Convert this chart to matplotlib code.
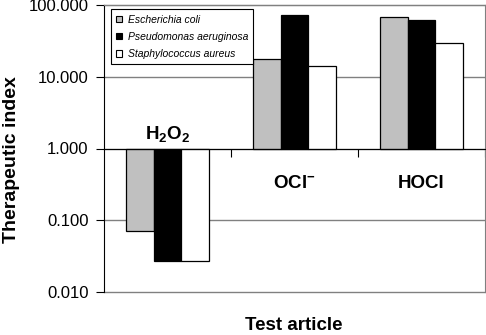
import matplotlib
matplotlib.use('Agg')
import matplotlib.pyplot as plt
from matplotlib.patches import Patch
import numpy as np

plt.rcParams['font.family'] = ['Liberation Sans', 'DejaVu Sans']
plt.rcParams['mathtext.fontset'] = 'custom'
plt.rcParams['mathtext.rm'] = 'Liberation Sans:bold'
plt.rcParams['mathtext.bf'] = 'Liberation Sans:bold'

# Data (bars start at 1.0)
categories = [r'$\mathbf{H_2O_2}$', r'$\mathbf{OCl^{-}}$', 'HOCl']
species = ['Escherichia coli', 'Pseudomonas aeruginosa', 'Staphylococcus aureus']
e_coli = [0.070, 17.6, 68.0]
p_aeruginosa = [0.027, 72.0, 62.0]
s_aureus = [0.027, 14.0, 30.0]
yticks = [0.01, 0.1, 1, 10, 100]

series = [e_coli, p_aeruginosa, s_aureus]
colors = ['#c0c0c0', 'black', 'white']

fig = plt.figure(figsize=(4.86, 3.35), dpi=100)
ax = fig.add_axes([104/486, 43/335, 381/486, 287/335])

x = np.arange(len(categories))
w = 0.22
for i, (vals, c) in enumerate(zip(series, colors)):
    vals = np.array(vals)
    ax.bar(x + (i - 1) * w, vals - 1, bottom=1, width=w, color=c,
           edgecolor='black', linewidth=0.9, zorder=3)

ax.set_yscale('log')
ax.set_ylim(0.01, 100)
ax.set_xlim(-0.5, 2.5)
ax.set_yticks(yticks)
ax.set_yticklabels(['%.3f' % t for t in yticks], fontsize=12)
ax.yaxis.set_minor_locator(matplotlib.ticker.NullLocator())

# gridlines
for t in yticks:
    ax.axhline(t, color='#808080', lw=1, zorder=1, clip_on=False)

# category axis sits at 1.0
ax.spines['bottom'].set_position(('data', 1))
ax.spines['bottom'].set_color('black')
ax.spines['bottom'].set_zorder(4)
ax.set_xticks([0.5, 1.5, 2.5])
ax.set_xticklabels([])
ax.tick_params(axis='x', direction='out', length=6, width=0.8)
ax.tick_params(axis='y', direction='out', length=6, width=0.8, pad=5)
ax.spines['top'].set_color('#808080')
ax.spines['right'].set_color('#808080')
ax.spines['left'].set_color('black')

# category labels
label_y = [1.6, 0.33, 0.33]
for xi, lab, ly in zip(x, categories, label_y):
    ax.text(xi, ly, lab, ha='center', va='center', fontsize=13.5,
            fontweight='bold', zorder=5)

fig.text(12/486, 1 - 160/335, 'Therapeutic index', rotation=90, ha='center',
         va='center', fontsize=14, fontweight='bold')
fig.text(294/486, 1 - 326/335, 'Test article', ha='center', va='center',
         fontsize=13.5, fontweight='bold')

handles = [Patch(facecolor=c, edgecolor='black', linewidth=0.8) for c in colors]
leg = ax.legend(handles, species, loc='upper left', bbox_to_anchor=(0.018, 0.985),
                prop={'size': 7.5, 'style': 'italic'}, fancybox=False,
                edgecolor='black', framealpha=1, handlelength=0.6,
                handleheight=0.6, handletextpad=0.5, borderpad=0.5,
                labelspacing=0.7, borderaxespad=0)
leg.get_frame().set_linewidth(0.8)
leg.set_zorder(6)

fig.savefig('out.png', dpi=100)
